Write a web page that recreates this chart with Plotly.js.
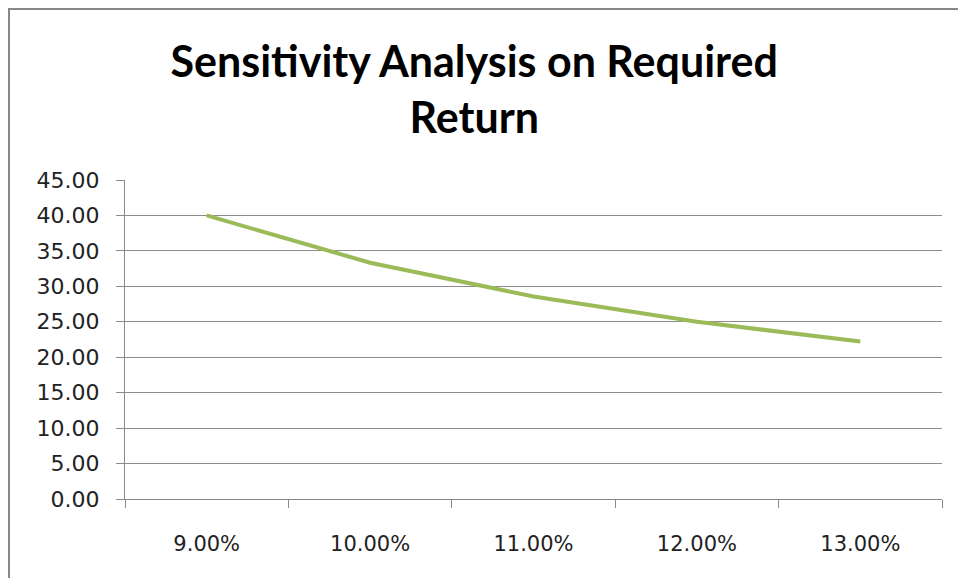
<!DOCTYPE html>
<html>
<head>
<meta charset="utf-8">
<script src="https://cdn.plot.ly/plotly-3.0.1.min.js"></script>
<style>
  html, body { margin: 0; padding: 0; background: #fff; }
  #wrap { position: relative; width: 958px; height: 578px; overflow: hidden; }
  #chart { width: 958px; height: 578px; }
  #frame { position: absolute; left: 8px; top: 8px; width: 1000px; height: 700px;
           border-left: 2px solid #878787; border-top: 2px solid #878787; pointer-events: none; }
</style>
</head>
<body>
<div id="wrap">
  <div id="chart"></div>
  <div id="frame"></div>
</div>
<script>
const categories = ["9.00%", "10.00%", "11.00%", "12.00%", "13.00%"];
const values = [40.00, 33.33, 28.57, 25.00, 22.22];
const yTickVals = [0, 5, 10, 15, 20, 25, 30, 35, 40, 45];
const yTickText = ["0.00", "5.00", "10.00", "15.00", "20.00", "25.00", "30.00", "35.00", "40.00", "45.00"];
const chartTitle = "Sensitivity Analysis on Required<br>Return";

const trace = {
  x: categories,
  y: values,
  type: "scatter",
  mode: "lines",
  line: { color: "#9BBB59", width: 4, shape: "linear" },
  hoverinfo: "x+y"
};

const layout = {
  width: 958,
  height: 578,
  margin: { l: 125, r: 16, t: 180, b: 79 },
  paper_bgcolor: "#ffffff",
  plot_bgcolor: "#ffffff",
  showlegend: false,
  title: {
    text: chartTitle,
    font: { family: "Lato, 'Open Sans', sans-serif", size: 43, color: "#000000", weight: "bold" },
    x: 0.495,
    xanchor: "center",
    y: 0.866,
    yanchor: "middle"
  },
  xaxis: {
    type: "category",
    range: [-0.5, 4.5],
    tickson: "boundaries",
    ticks: "outside",
    ticklen: 8,
    tickcolor: "#888888",
    tickwidth: 1,
    showline: true,
    linecolor: "#888888",
    linewidth: 1,
    showgrid: false,
    zeroline: false,
    tickfont: { family: "DejaVu Sans, sans-serif", size: 21, color: "#222222" },
    ticklabelstandoff: 26,
    fixedrange: true
  },
  yaxis: {
    range: [0, 45],
    tickvals: yTickVals,
    ticktext: yTickText,
    ticks: "outside",
    ticklen: 8,
    tickcolor: "#888888",
    tickwidth: 1,
    showline: true,
    linecolor: "#888888",
    linewidth: 1,
    showgrid: true,
    gridcolor: "#8c8c8c",
    gridwidth: 1,
    zeroline: false,
    tickfont: { family: "DejaVu Sans, sans-serif", size: 22, color: "#222222" },
    ticklabelstandoff: 12,
    fixedrange: true
  }
};

Plotly.newPlot("chart", [trace], layout, { displayModeBar: false, staticPlot: true });
</script>
</body>
</html>
